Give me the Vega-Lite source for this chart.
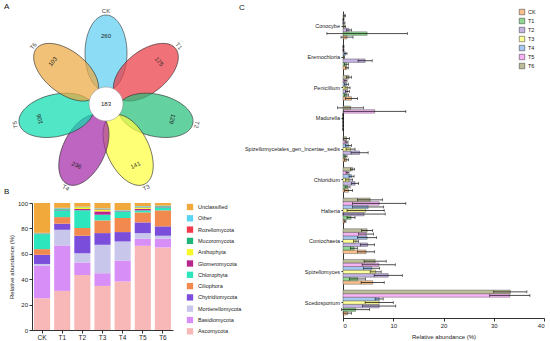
{
  "$schema": "https://vega.github.io/schema/vega-lite/v6.json",
  "padding": {"left": 4, "top": 3, "right": 0, "bottom": 0},
  "bounds": "flush",
  "spacing": 311,
  "resolve": {"scale": {"color": "independent"}, "legend": {"color": "independent"}},
  "config": {
    "view": {"stroke": null},
    "font": "Liberation Sans",
    "title": {"fontSize": 8, "fontWeight": "normal", "anchor": "start", "frame": "group", "color": "#111", "offset": 0},
    "axis": {"domainColor": "#000", "tickColor": "#000", "labelColor": "#222", "titleColor": "#222", "labelFontSize": 6, "titleFontSize": 6, "titleFontWeight": "normal", "tickSize": 3, "grid": false, "domainWidth": 0.8, "tickWidth": 0.8, "labelPadding": 1.5},
    "legend": {"labelFontSize": 5.5, "labelColor": "#222", "title": null}
  },
  "datasets": {
    "venn": [
      {"set": "CK", "count": 260, "order": 0},
      {"set": "T1", "count": 175, "order": 1},
      {"set": "T2", "count": 129, "order": 2},
      {"set": "T3", "count": 141, "order": 3},
      {"set": "T4", "count": 236, "order": 4},
      {"set": "T5", "count": 106, "order": 5},
      {"set": "T6", "count": 103, "order": 6}
    ],
    "core": [{"label": "core", "count": 183}],
    "phylum": [
      {"group": "CK", "phylum": "Ascomycota", "value": 25.0},
      {"group": "CK", "phylum": "Basidiomycota", "value": 25.5},
      {"group": "CK", "phylum": "Mortierellomycota", "value": 1.5},
      {"group": "CK", "phylum": "Chytridiomycota", "value": 7.2},
      {"group": "CK", "phylum": "Ciliophora", "value": 4.5},
      {"group": "CK", "phylum": "Chlorophyta", "value": 11.8},
      {"group": "CK", "phylum": "Glomeromycota", "value": 0.2},
      {"group": "CK", "phylum": "Anthophyta", "value": 0.1},
      {"group": "CK", "phylum": "Mucoromycota", "value": 0.3},
      {"group": "CK", "phylum": "Rozellomycota", "value": 0.1},
      {"group": "CK", "phylum": "Other", "value": 0.3},
      {"group": "CK", "phylum": "Unclassified", "value": 23.5},
      {"group": "T1", "phylum": "Ascomycota", "value": 30.8},
      {"group": "T1", "phylum": "Basidiomycota", "value": 35.8},
      {"group": "T1", "phylum": "Mortierellomycota", "value": 12.3},
      {"group": "T1", "phylum": "Chytridiomycota", "value": 4.8},
      {"group": "T1", "phylum": "Ciliophora", "value": 5.2},
      {"group": "T1", "phylum": "Chlorophyta", "value": 5.3},
      {"group": "T1", "phylum": "Glomeromycota", "value": 0.3},
      {"group": "T1", "phylum": "Anthophyta", "value": 0.2},
      {"group": "T1", "phylum": "Mucoromycota", "value": 0.8},
      {"group": "T1", "phylum": "Rozellomycota", "value": 0.2},
      {"group": "T1", "phylum": "Other", "value": 0.5},
      {"group": "T1", "phylum": "Unclassified", "value": 3.8},
      {"group": "T2", "phylum": "Ascomycota", "value": 43.4},
      {"group": "T2", "phylum": "Basidiomycota", "value": 9.8},
      {"group": "T2", "phylum": "Mortierellomycota", "value": 7.3},
      {"group": "T2", "phylum": "Chytridiomycota", "value": 13.7},
      {"group": "T2", "phylum": "Ciliophora", "value": 6.1},
      {"group": "T2", "phylum": "Chlorophyta", "value": 13.9},
      {"group": "T2", "phylum": "Glomeromycota", "value": 1.1},
      {"group": "T2", "phylum": "Anthophyta", "value": 1.3},
      {"group": "T2", "phylum": "Mucoromycota", "value": 0.2},
      {"group": "T2", "phylum": "Rozellomycota", "value": 0.3},
      {"group": "T2", "phylum": "Other", "value": 0.2},
      {"group": "T2", "phylum": "Unclassified", "value": 2.7},
      {"group": "T3", "phylum": "Ascomycota", "value": 34.7},
      {"group": "T3", "phylum": "Basidiomycota", "value": 10.0},
      {"group": "T3", "phylum": "Mortierellomycota", "value": 22.4},
      {"group": "T3", "phylum": "Chytridiomycota", "value": 9.2},
      {"group": "T3", "phylum": "Ciliophora", "value": 10.0},
      {"group": "T3", "phylum": "Chlorophyta", "value": 4.5},
      {"group": "T3", "phylum": "Glomeromycota", "value": 2.6},
      {"group": "T3", "phylum": "Anthophyta", "value": 1.3},
      {"group": "T3", "phylum": "Mucoromycota", "value": 0.3},
      {"group": "T3", "phylum": "Rozellomycota", "value": 0.3},
      {"group": "T3", "phylum": "Other", "value": 0.5},
      {"group": "T3", "phylum": "Unclassified", "value": 4.2},
      {"group": "T4", "phylum": "Ascomycota", "value": 38.2},
      {"group": "T4", "phylum": "Basidiomycota", "value": 16.5},
      {"group": "T4", "phylum": "Mortierellomycota", "value": 15.0},
      {"group": "T4", "phylum": "Chytridiomycota", "value": 7.4},
      {"group": "T4", "phylum": "Ciliophora", "value": 11.1},
      {"group": "T4", "phylum": "Chlorophyta", "value": 5.2},
      {"group": "T4", "phylum": "Glomeromycota", "value": 0.3},
      {"group": "T4", "phylum": "Anthophyta", "value": 0.1},
      {"group": "T4", "phylum": "Mucoromycota", "value": 0.2},
      {"group": "T4", "phylum": "Rozellomycota", "value": 0.1},
      {"group": "T4", "phylum": "Other", "value": 0.3},
      {"group": "T4", "phylum": "Unclassified", "value": 5.6},
      {"group": "T5", "phylum": "Ascomycota", "value": 66.3},
      {"group": "T5", "phylum": "Basidiomycota", "value": 5.5},
      {"group": "T5", "phylum": "Mortierellomycota", "value": 4.5},
      {"group": "T5", "phylum": "Chytridiomycota", "value": 8.4},
      {"group": "T5", "phylum": "Ciliophora", "value": 7.9},
      {"group": "T5", "phylum": "Chlorophyta", "value": 1.6},
      {"group": "T5", "phylum": "Glomeromycota", "value": 1.2},
      {"group": "T5", "phylum": "Anthophyta", "value": 1.0},
      {"group": "T5", "phylum": "Mucoromycota", "value": 0.3},
      {"group": "T5", "phylum": "Rozellomycota", "value": 0.2},
      {"group": "T5", "phylum": "Other", "value": 0.6},
      {"group": "T5", "phylum": "Unclassified", "value": 2.5},
      {"group": "T6", "phylum": "Ascomycota", "value": 65.0},
      {"group": "T6", "phylum": "Basidiomycota", "value": 6.8},
      {"group": "T6", "phylum": "Mortierellomycota", "value": 2.4},
      {"group": "T6", "phylum": "Chytridiomycota", "value": 7.4},
      {"group": "T6", "phylum": "Ciliophora", "value": 12.6},
      {"group": "T6", "phylum": "Chlorophyta", "value": 2.4},
      {"group": "T6", "phylum": "Glomeromycota", "value": 0.3},
      {"group": "T6", "phylum": "Anthophyta", "value": 0.1},
      {"group": "T6", "phylum": "Mucoromycota", "value": 0.5},
      {"group": "T6", "phylum": "Rozellomycota", "value": 0.1},
      {"group": "T6", "phylum": "Other", "value": 0.4},
      {"group": "T6", "phylum": "Unclassified", "value": 2.0}
    ],
    "genus": [
      {"genus": "Conocybe", "group": "CK", "mean": 0.8, "sd": 1.2},
      {"genus": "Conocybe", "group": "T1", "mean": 4.8, "sd": 8.0},
      {"genus": "Conocybe", "group": "T2", "mean": 1.2, "sd": 0.5},
      {"genus": "Conocybe", "group": "T3", "mean": 0.3, "sd": 0.2},
      {"genus": "Conocybe", "group": "T4", "mean": 0.2, "sd": 0.2},
      {"genus": "Conocybe", "group": "T5", "mean": 0.1, "sd": 0.1},
      {"genus": "Conocybe", "group": "T6", "mean": 0.3, "sd": 0.2},
      {"genus": "Eremochloria", "group": "CK", "mean": 0.8, "sd": 0.3},
      {"genus": "Eremochloria", "group": "T1", "mean": 0.7, "sd": 0.4},
      {"genus": "Eremochloria", "group": "T2", "mean": 4.4, "sd": 1.4},
      {"genus": "Eremochloria", "group": "T3", "mean": 0.2, "sd": 0.1},
      {"genus": "Eremochloria", "group": "T4", "mean": 0.5, "sd": 0.3},
      {"genus": "Eremochloria", "group": "T5", "mean": 0.1, "sd": 0.1},
      {"genus": "Eremochloria", "group": "T6", "mean": 0.1, "sd": 0.1},
      {"genus": "Penicillium", "group": "CK", "mean": 1.7, "sd": 1.2},
      {"genus": "Penicillium", "group": "T1", "mean": 0.7, "sd": 0.4},
      {"genus": "Penicillium", "group": "T2", "mean": 0.9, "sd": 0.4},
      {"genus": "Penicillium", "group": "T3", "mean": 0.9, "sd": 0.5},
      {"genus": "Penicillium", "group": "T4", "mean": 0.7, "sd": 0.4},
      {"genus": "Penicillium", "group": "T5", "mean": 0.5, "sd": 0.3},
      {"genus": "Penicillium", "group": "T6", "mean": 1.2, "sd": 0.5},
      {"genus": "Madurella", "group": "CK", "mean": 0, "sd": 0},
      {"genus": "Madurella", "group": "T1", "mean": 0, "sd": 0},
      {"genus": "Madurella", "group": "T2", "mean": 0, "sd": 0},
      {"genus": "Madurella", "group": "T3", "mean": 0, "sd": 0},
      {"genus": "Madurella", "group": "T4", "mean": 0, "sd": 0},
      {"genus": "Madurella", "group": "T5", "mean": 6.3, "sd": 6.2},
      {"genus": "Madurella", "group": "T6", "mean": 1.5, "sd": 2.6},
      {"genus": "Spizellomycetales_gen_Incertae_sedis", "group": "CK", "mean": 0.7, "sd": 0.4},
      {"genus": "Spizellomycetales_gen_Incertae_sedis", "group": "T1", "mean": 0.5, "sd": 0.3},
      {"genus": "Spizellomycetales_gen_Incertae_sedis", "group": "T2", "mean": 3.3, "sd": 1.7},
      {"genus": "Spizellomycetales_gen_Incertae_sedis", "group": "T3", "mean": 1.5, "sd": 0.9},
      {"genus": "Spizellomycetales_gen_Incertae_sedis", "group": "T4", "mean": 1.1, "sd": 0.6},
      {"genus": "Spizellomycetales_gen_Incertae_sedis", "group": "T5", "mean": 0.7, "sd": 0.3},
      {"genus": "Spizellomycetales_gen_Incertae_sedis", "group": "T6", "mean": 0.7, "sd": 0.6},
      {"genus": "Chloridium", "group": "CK", "mean": 1.1, "sd": 0.8},
      {"genus": "Chloridium", "group": "T1", "mean": 0.9, "sd": 0.5},
      {"genus": "Chloridium", "group": "T2", "mean": 2.4, "sd": 0.7},
      {"genus": "Chloridium", "group": "T3", "mean": 1.2, "sd": 0.7},
      {"genus": "Chloridium", "group": "T4", "mean": 1.7, "sd": 0.5},
      {"genus": "Chloridium", "group": "T5", "mean": 0.9, "sd": 0.3},
      {"genus": "Chloridium", "group": "T6", "mean": 1.9, "sd": 0.4},
      {"genus": "Halteria", "group": "CK", "mean": 0.4, "sd": 0.2},
      {"genus": "Halteria", "group": "T1", "mean": 1.6, "sd": 0.8},
      {"genus": "Halteria", "group": "T2", "mean": 4.2, "sd": 4.2},
      {"genus": "Halteria", "group": "T3", "mean": 4.5, "sd": 3.7},
      {"genus": "Halteria", "group": "T4", "mean": 5.0, "sd": 3.1},
      {"genus": "Halteria", "group": "T5", "mean": 7.2, "sd": 5.3},
      {"genus": "Halteria", "group": "T6", "mean": 5.4, "sd": 2.5},
      {"genus": "Coniochaeta", "group": "CK", "mean": 4.6, "sd": 1.7},
      {"genus": "Coniochaeta", "group": "T1", "mean": 2.2, "sd": 0.7},
      {"genus": "Coniochaeta", "group": "T2", "mean": 4.9, "sd": 1.4},
      {"genus": "Coniochaeta", "group": "T3", "mean": 2.6, "sd": 0.5},
      {"genus": "Coniochaeta", "group": "T4", "mean": 4.8, "sd": 1.9},
      {"genus": "Coniochaeta", "group": "T5", "mean": 4.6, "sd": 1.5},
      {"genus": "Coniochaeta", "group": "T6", "mean": 4.8, "sd": 1.1},
      {"genus": "Spizellomyces", "group": "CK", "mean": 5.9, "sd": 2.3},
      {"genus": "Spizellomyces", "group": "T1", "mean": 2.9, "sd": 1.6},
      {"genus": "Spizellomyces", "group": "T2", "mean": 9.0, "sd": 2.8},
      {"genus": "Spizellomyces", "group": "T3", "mean": 6.5, "sd": 1.1},
      {"genus": "Spizellomyces", "group": "T4", "mean": 5.7, "sd": 1.6},
      {"genus": "Spizellomyces", "group": "T5", "mean": 7.1, "sd": 3.3},
      {"genus": "Spizellomyces", "group": "T6", "mean": 6.4, "sd": 2.2},
      {"genus": "Scedosporium", "group": "CK", "mean": 0.9, "sd": 0.8},
      {"genus": "Scedosporium", "group": "T1", "mean": 2.5, "sd": 2.8},
      {"genus": "Scedosporium", "group": "T2", "mean": 7.2, "sd": 3.3},
      {"genus": "Scedosporium", "group": "T3", "mean": 7.2, "sd": 2.8},
      {"genus": "Scedosporium", "group": "T4", "mean": 7.2, "sd": 0.8},
      {"genus": "Scedosporium", "group": "T5", "mean": 33.2, "sd": 4.0},
      {"genus": "Scedosporium", "group": "T6", "mean": 33.3, "sd": 3.3}
    ]
  },
  "hconcat": [
    {
      "bounds": "flush",
      "spacing": 12,
      "resolve": {"scale": {"color": "independent"}, "legend": {"color": "independent"}},
      "vconcat": [
        {
          "title": {"text": "A", "dx": -28, "dy": 7},
          "width": 141,
          "height": 180,
          "layer": [
            {
              "data": {"name": "venn"},
              "transform": [
                {"calculate": "90 - datum.order * 360 / 7", "as": "theta"},
                {"calculate": "51 * cos(datum.theta * PI / 180)", "as": "px"},
                {"calculate": "51 * sin(datum.theta * PI / 180)", "as": "py"},
                {"calculate": "90 - datum.theta", "as": "rot"}
              ],
              "mark": {"type": "point", "shape": "M0,-1C0.305,-1,0.553,-0.552,0.553,0C0.553,0.552,0.305,1,0,1C-0.305,1,-0.553,0.552,-0.553,0C-0.553,-0.552,-0.305,-1,0,-1Z", "size": 5776, "filled": true, "opacity": 1, "fillOpacity": 0.72, "stroke": "#333", "strokeWidth": 0.6},
              "encoding": {
                "x": {"field": "px", "type": "quantitative", "scale": {"domain": [-74, 67], "nice": false, "zero": false}, "axis": null},
                "y": {"field": "py", "type": "quantitative", "scale": {"domain": [-87, 93], "nice": false, "zero": false}, "axis": null},
                "angle": {"field": "rot", "type": "quantitative", "scale": null},
                "color": {"field": "set", "type": "nominal", "scale": {"domain": ["CK", "T1", "T2", "T3", "T4", "T5", "T6"], "range": ["#5FCFF2", "#EC3A44", "#27BF7C", "#FFFF40", "#A42AA8", "#0EDDB0", "#EBA943"]}, "legend": null}
              }
            },
            {
              "data": {"name": "venn"},
              "transform": [
                {"calculate": "90 - datum.order * 360 / 7", "as": "theta"},
                {"calculate": "68 * cos(datum.theta * PI / 180)", "as": "nx"},
                {"calculate": "68 * sin(datum.theta * PI / 180)", "as": "ny"},
                {"calculate": "90 - datum.theta", "as": "r0"},
                {"calculate": "datum.r0 > 110 && datum.r0 < 250 ? datum.r0 - 180 : datum.r0", "as": "rot"}
              ],
              "mark": {"type": "text", "fontSize": 6, "color": "#222", "baseline": "middle"},
              "encoding": {
                "x": {"field": "nx", "type": "quantitative"},
                "y": {"field": "ny", "type": "quantitative"},
                "angle": {"field": "rot", "type": "quantitative", "scale": null},
                "text": {"field": "count", "type": "quantitative"}
              }
            },
            {
              "data": {"name": "venn"},
              "transform": [
                {"calculate": "90 - datum.order * 360 / 7", "as": "theta"},
                {"calculate": "93 * cos(datum.theta * PI / 180)", "as": "lx"},
                {"calculate": "93 * sin(datum.theta * PI / 180)", "as": "ly"},
                {"calculate": "90 - datum.theta", "as": "r0"},
                {"calculate": "datum.r0 > 110 && datum.r0 < 250 ? datum.r0 - 180 : datum.r0", "as": "rot"}
              ],
              "mark": {"type": "text", "fontSize": 6, "color": "#444", "baseline": "middle"},
              "encoding": {
                "x": {"field": "lx", "type": "quantitative"},
                "y": {"field": "ly", "type": "quantitative"},
                "angle": {"field": "rot", "type": "quantitative", "scale": null},
                "text": {"field": "set", "type": "nominal"}
              }
            },
            {
              "data": {"name": "core"},
              "mark": {"type": "point", "shape": "circle", "size": 1156, "filled": true, "color": "white", "opacity": 1, "stroke": "#888", "strokeWidth": 0.5},
              "encoding": {
                "x": {"datum": 0, "type": "quantitative"},
                "y": {"datum": 0, "type": "quantitative"}
              }
            },
            {
              "data": {"name": "core"},
              "mark": {"type": "text", "fontSize": 6, "color": "#222", "baseline": "middle"},
              "encoding": {
                "x": {"datum": 0, "type": "quantitative"},
                "y": {"datum": 0, "type": "quantitative"},
                "text": {"field": "count", "type": "quantitative"}
              }
            }
          ]
        },
        {
          "title": {"text": "B", "dx": -28},
          "width": 141,
          "height": 127,
          "data": {"name": "phylum"},
          "transform": [
            {"calculate": "indexof(['Ascomycota','Basidiomycota','Mortierellomycota','Chytridiomycota','Ciliophora','Chlorophyta','Glomeromycota','Anthophyta','Mucoromycota','Rozellomycota','Other','Unclassified'], datum.phylum)", "as": "rank"}
          ],
          "mark": {"type": "bar"},
          "encoding": {
            "x": {"field": "group", "type": "nominal", "sort": ["CK", "T1", "T2", "T3", "T4", "T5", "T6"], "scale": {"paddingInner": 0.2, "paddingOuter": 0.1}, "axis": {"title": null, "labelAngle": 0, "labelFontSize": 6.5}},
            "y": {"field": "value", "type": "quantitative", "stack": "zero", "scale": {"domain": [0, 100], "nice": false}, "axis": {"title": "Relative abundance (%)", "values": [0, 20, 40, 60, 80, 100], "titlePadding": 3}},
            "color": {
              "field": "phylum", "type": "nominal",
              "scale": {
                "domain": ["Unclassified", "Other", "Rozellomycota", "Mucoromycota", "Anthophyta", "Glomeromycota", "Chlorophyta", "Ciliophora", "Chytridiomycota", "Mortierellomycota", "Basidiomycota", "Ascomycota"],
                "range": ["#F2A93B", "#5BD3F2", "#F23A4B", "#21B57A", "#F7F72A", "#B7268F", "#2EE6BE", "#F28A4F", "#7A4EDB", "#C9C6EC", "#D78EF6", "#F9B8B8"]
              },
              "legend": {"orient": "right", "offset": 13, "symbolType": "square", "symbolSize": 40, "rowPadding": 3.3, "labelOffset": 4}
            },
            "order": {"field": "rank", "type": "quantitative"}
          }
        }
      ]
    },
    {
      "title": {"text": "C", "dx": -104, "dy": 7},
      "width": 201,
      "height": 307,
      "data": {"name": "genus"},
      "encoding": {
        "y": {"field": "genus", "type": "nominal", "sort": ["Conocybe", "Eremochloria", "Penicillium", "Madurella", "Spizellomycetales_gen_Incertae_sedis", "Chloridium", "Halteria", "Coniochaeta", "Spizellomyces", "Scedosporium"], "scale": {"paddingInner": 0.19, "paddingOuter": 0.1}, "axis": {"title": null, "labelFontSize": 5.5, "tickSize": 2}},
        "yOffset": {"field": "group", "type": "nominal", "sort": ["T6", "T5", "T4", "T3", "T2", "T1", "CK"]}
      },
      "layer": [
        {
          "mark": {"type": "bar", "stroke": "#444", "strokeWidth": 0.4},
          "encoding": {
            "x": {"field": "mean", "type": "quantitative", "title": "Relative abundance (%)", "scale": {"domain": [0, 40], "nice": false}, "axis": {"title": "Relative abundance (%)", "values": [0, 10, 20, 30, 40], "titlePadding": 5}},
            "color": {
              "field": "group", "type": "nominal",
              "scale": {"domain": ["CK", "T1", "T2", "T3", "T4", "T5", "T6"], "range": ["#F9C08E", "#8FD88F", "#C5B3E3", "#FFFF99", "#A6C8F2", "#F9B3F5", "#BDBD9A"]},
              "legend": {"orient": "none", "legendX": 176, "legendY": -2, "symbolType": "square", "symbolSize": 30, "symbolStrokeColor": "#333", "symbolStrokeWidth": 0.5, "rowPadding": 1, "labelOffset": 3}
            }
          }
        },
        {
          "mark": {"type": "errorbar", "color": "#000", "thickness": 0.7, "ticks": {"size": 3, "thickness": 0.7}},
          "encoding": {
            "x": {"field": "mean", "type": "quantitative", "title": "Relative abundance (%)"},
            "xError": {"field": "sd"}
          }
        }
      ]
    }
  ]
}
